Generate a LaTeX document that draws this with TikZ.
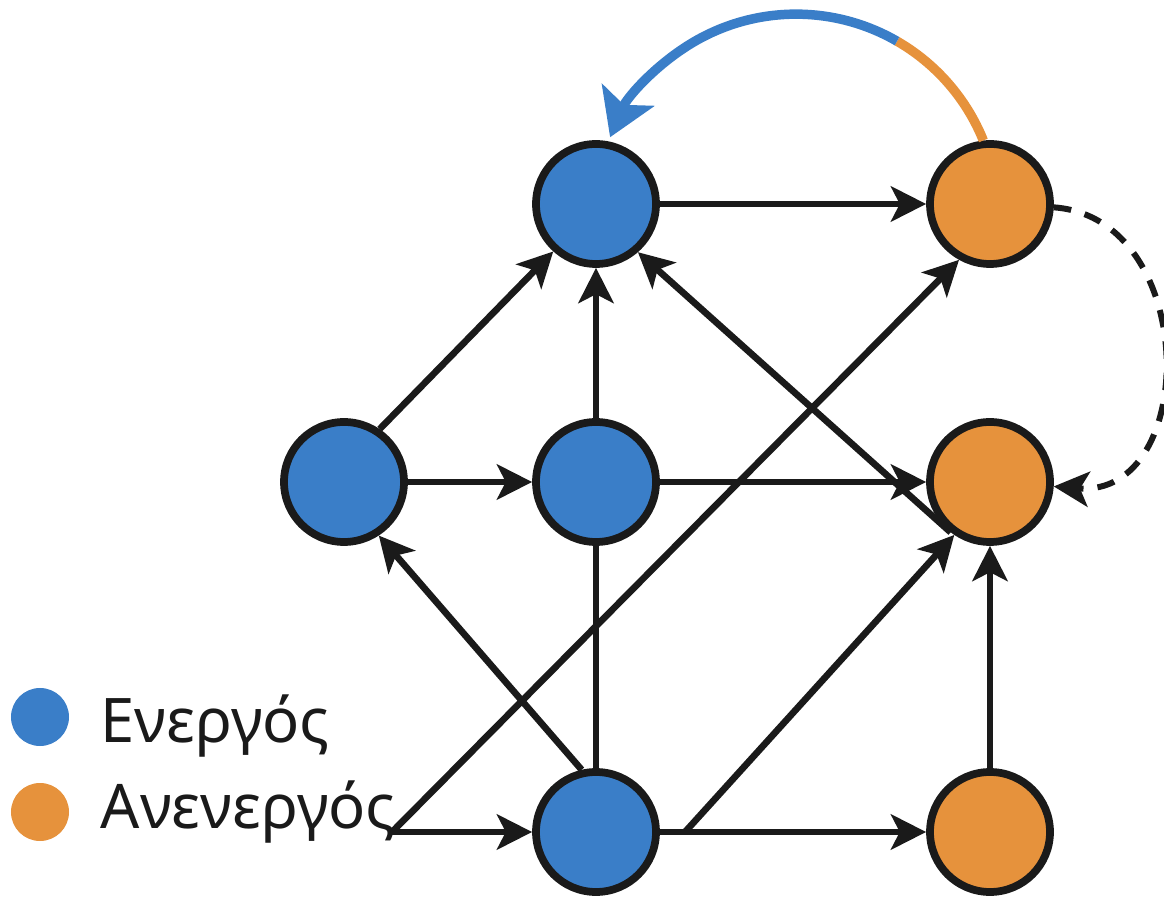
\documentclass[tikz,border=0pt]{standalone}
\usepackage{fontspec}
\setmainfont{Noto Sans}
\usetikzlibrary{arrows.meta}
\definecolor{actblue}{RGB}{58,126,200}
\definecolor{inactorange}{RGB}{230,146,60}
\definecolor{ink}{RGB}{26,26,26}

\begin{document}
\begin{tikzpicture}[blu/.style={draw=ink, line width=2.2pt, circle,
		minimum size=1.2cm, fill=actblue}, orng/.style={draw=ink, line width=2.2pt, circle,
		minimum size=1.2cm, fill=inactorange},
		arr/.style={draw=ink, line width=1.9pt, -{Stealth[length=10pt,width=10pt,inset=2.5pt]}},
		legdot/.style={circle, minimum size=0.58cm, inner sep=0pt},
		legtxt/.style={anchor=base west, inner sep=0pt, text=ink, font=\fontsize{17.5}{20}\selectfont}]
	\useasboundingbox (0,0) rectangle (11.64,8.98);
	\node [blu] (0) at (5.96,6.94) {};
	\node [orng] (1) at (9.90,6.94) {};
	\node [blu] (2) at (3.44,4.16) {};
	\node [blu] (3) at (5.96,4.16) {};
	\node [orng] (4) at (9.90,4.16) {};
	\node [blu] (5) at (5.96,0.66) {};
	\node [orng] (6) at (9.90,0.66) {};
	\node [legdot, fill=actblue] (7) at (0.40,1.81) {};
	\node [legdot, fill=inactorange] (8) at (0.40,0.86) {};
	\node [legtxt] (9) at (1.0,1.55) {Ενεργός};
	\node [legtxt] (10) at (1.0,0.70) {Ανενεργός};
	\coordinate (src) at (3.92,0.66);
	\coordinate (fork) at (6.85,0.66);
	\draw [arr] (0) -- (1);
	\draw [arr] (2.56) -- (0.228);
	\draw [arr] (2) -- (3);
	\draw [arr] (3) -- (0);
	\draw [arr] (3) -- (4);
	\draw [arr] (4.232) -- (0.-49);
	\draw [arr] (5.103) -- (2.-57);
	\draw [draw=ink, line width=1.9pt] (5) -- (3);
	\draw [arr] (src) -- (5);
	\draw [arr] (src) -- (1.241);
	\draw [arr] (5) -- (6);
	\draw [arr] (fork) -- (4.236);
	\draw [arr] (6) -- (4);
	\draw [draw=inactorange, line width=2.7pt] (1.96) arc[start angle=22, end angle=60, radius=2.02] coordinate (split);
	\draw [draw=actblue, line width=2.7pt, -{Stealth[length=13pt,width=16pt,inset=3pt]}] (split) arc[start angle=60, end angle=157, radius=2.02];
	\draw [draw=ink, line width=1.7pt, dash pattern=on 5pt off 4pt, -{Stealth[length=10pt,width=10pt,inset=2.5pt]}] (1.-3) .. controls (12.0,6.8) and (12.0,4.0) .. (4.-4);
\end{tikzpicture}
\end{document}
